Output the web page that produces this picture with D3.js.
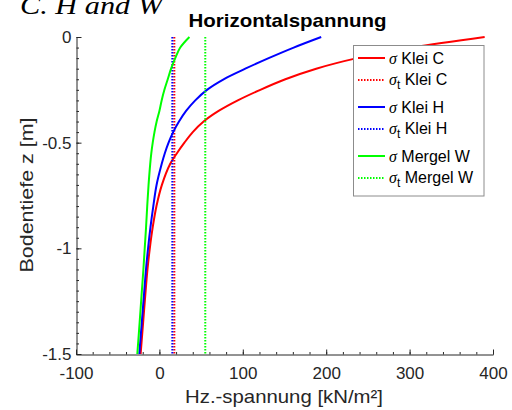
<!DOCTYPE html>
<html>
<head>
<meta charset="utf-8">
<script src="https://cdn.jsdelivr.net/npm/d3@7"></script>
<style>
  html, body { margin: 0; padding: 0; background: #fff; }
  svg { display: block; }
  text { font-family: "Liberation Sans", Arial, Helvetica, sans-serif; }
</style>
</head>
<body>
<svg id="chart" width="512" height="410"></svg>
<script>
// ---------- data ----------
const depths = [0, -0.05, -0.1, -0.15, -0.2, -0.25, -0.3, -0.35, -0.4, -0.45, -0.5, -0.55, -0.6, -0.7, -0.8, -0.9, -1.0, -1.1, -1.2, -1.3, -1.4, -1.5];
const sigmaKleiC   = [390, 303, 237, 188, 151, 121, 94, 71, 53, 40, 30, 21, 13, 3, -3.5, -8, -11.5, -14.3, -16.5, -18.5, -20.5, -22.5];
const sigmaKleiH   = [194, 161, 131, 103, 77, 57, 43, 32, 23.5, 16.5, 11, 6.5, 2.8, -3.4, -7.3, -10.7, -13.6, -16.1, -18.1, -20.1, -22.1, -24.1];
const sigmaMergelW = [36, 25, 19, 14, 10, 6, 2.7, 0, -3.3, -5.9, -8, -9.7, -11, -13, -14.6, -16, -17.6, -19.2, -21, -22.8, -24.6, -26.5];
const tensileKleiC = 17.9;
const tensileKleiH = 15.5;
const tensileMergelW = 55;

const xTicks = [-100, 0, 100, 200, 300, 400];
const yTicks = [-1.5, -1, -0.5, 0];
const yTickLabels = ["-1.5", "-1", "-0.5", "0"];
const xMinorTicks = d3.range(-100, 401, 20);
const yMinorTicks = d3.range(0, 31).map(i => -i * 0.05);

const seriesNames = ["Klei C", "Klei C", "Klei H", "Klei H", "Mergel W", "Mergel W"];
const titleText = "Horizontalspannung";
const xLabel = "Hz.-spannung [kN/m²]";
const yLabel = "Bodentiefe z [m]";
const captionText = "C. H and W";

// ---------- layout ----------
const svg = d3.select("#chart");
const x = d3.scaleLinear().domain([-100, 400]).range([76, 493]);
const y = d3.scaleLinear().domain([-1.5, 0]).range([354, 37]);
const axisColor = "#262626";

// cropped caption at the very top
svg.append("text")
  .attr("x", 20).attr("y", 14)
  .attr("textLength", 143).attr("lengthAdjust", "spacingAndGlyphs")
  .style("font-family", "'Liberation Serif', 'DejaVu Serif', serif")
  .style("font-style", "italic")
  .style("font-size", "26px")
  .attr("fill", "#000")
  .text(captionText);

// title
svg.append("text")
  .attr("x", 287.5).attr("y", 26.5)
  .attr("text-anchor", "middle")
  .attr("textLength", 198).attr("lengthAdjust", "spacingAndGlyphs")
  .style("font-weight", "bold").style("font-size", "19px")
  .attr("fill", "#000")
  .text(titleText);

// minor ticks
svg.append("g").attr("transform", "translate(0,354.5)")
  .call(d3.axisBottom(x).tickValues(xMinorTicks).tickSize(-2.5).tickSizeOuter(0).tickFormat(""))
  .call(g => g.select(".domain").remove())
  .call(g => g.selectAll("line").attr("stroke", axisColor));
svg.append("g").attr("transform", "translate(76.5,0)")
  .call(d3.axisLeft(y).tickValues(yMinorTicks).tickSize(-2.5).tickSizeOuter(0).tickFormat(""))
  .call(g => g.select(".domain").remove())
  .call(g => g.selectAll("line").attr("stroke", axisColor));

// major axes
const gx = svg.append("g").attr("transform", "translate(0,354.5)")
  .call(d3.axisBottom(x).tickValues(xTicks).tickSize(-5).tickSizeOuter(0).tickPadding(12).tickFormat(d3.format("d")));
const gy = svg.append("g").attr("transform", "translate(76.5,0)")
  .call(d3.axisLeft(y).tickValues(yTicks).tickSize(-5).tickSizeOuter(0).tickPadding(5)
    .tickFormat((d, i) => yTickLabels[i]));
[gx, gy].forEach(g => {
  g.select(".domain").attr("stroke", axisColor);
  g.selectAll("line").attr("stroke", axisColor);
  g.selectAll("text").attr("fill", axisColor)
    .style("font-family", "'Liberation Sans', Arial, sans-serif").style("font-size", "17px");
});
gx.selectAll("text").text(d => d < 0 ? "-" + Math.abs(d) : d);

// axis labels
svg.append("text")
  .attr("x", 284).attr("y", 403)
  .attr("text-anchor", "middle")
  .attr("textLength", 198).attr("lengthAdjust", "spacingAndGlyphs")
  .style("font-size", "19px").attr("fill", axisColor)
  .text(xLabel);
svg.append("text")
  .attr("transform", "translate(33,195) rotate(-90)")
  .attr("text-anchor", "middle")
  .attr("textLength", 155).attr("lengthAdjust", "spacingAndGlyphs")
  .style("font-size", "19px").attr("fill", axisColor)
  .text(yLabel);

// curves
const line = d3.line().x(d => x(d[0])).y(d => y(d[1])).curve(d3.curveCatmullRom.alpha(0.5));
const curves = [
  { vals: sigmaKleiC, color: "#ff0000" },
  { vals: sigmaKleiH, color: "#0000ff" },
  { vals: sigmaMergelW, color: "#00ff00" }
];
const tensile = [tensileKleiC, tensileKleiH, tensileMergelW];

curves.forEach((c, i) => {
  svg.append("path")
    .datum(c.vals.map((v, k) => [v, depths[k]]))
    .attr("d", line)
    .attr("fill", "none")
    .attr("stroke", c.color)
    .attr("stroke-width", 2);
  svg.append("line")
    .attr("x1", x(tensile[i])).attr("x2", x(tensile[i]))
    .attr("y1", y(0)).attr("y2", y(-1.5))
    .attr("stroke", c.color)
    .attr("stroke-width", 2)
    .attr("stroke-dasharray", "1.5,1.5");
});

// legend
const lg = svg.append("g");
lg.append("rect")
  .attr("x", 353.5).attr("y", 45.5).attr("width", 130.5).attr("height", 150.5)
  .attr("fill", "#fff").attr("stroke", "#8c8c8c").attr("stroke-width", 1);

const legendColors = ["#ff0000", "#ff0000", "#0000ff", "#0000ff", "#00ff00", "#00ff00"];
seriesNames.forEach((name, i) => {
  const isT = i % 2 === 1;
  const base = 64 + Math.floor(i / 2) * 49 + (isT ? 20.5 : 0);
  const ly = base - (isT ? 4.5 : 6);
  lg.append("line")
    .attr("x1", 358).attr("x2", 385).attr("y1", ly).attr("y2", ly)
    .attr("stroke", legendColors[i]).attr("stroke-width", 2)
    .attr("stroke-dasharray", isT ? "1.5,1.5" : null);
  const t = lg.append("text").attr("x", 389).attr("y", base)
    .style("font-size", "16px").attr("fill", "#000");
  t.append("tspan")
    .style("font-family", "'Liberation Serif', 'DejaVu Serif', serif")
    .style("font-style", "italic")
    .text("σ");
  if (isT) {
    t.append("tspan").attr("dy", 4.5).style("font-size", "12px").text("t");
    t.append("tspan").attr("dy", -4.5).text(" " + name);
  } else {
    t.append("tspan").text(" " + name);
  }
});
</script>
</body>
</html>
